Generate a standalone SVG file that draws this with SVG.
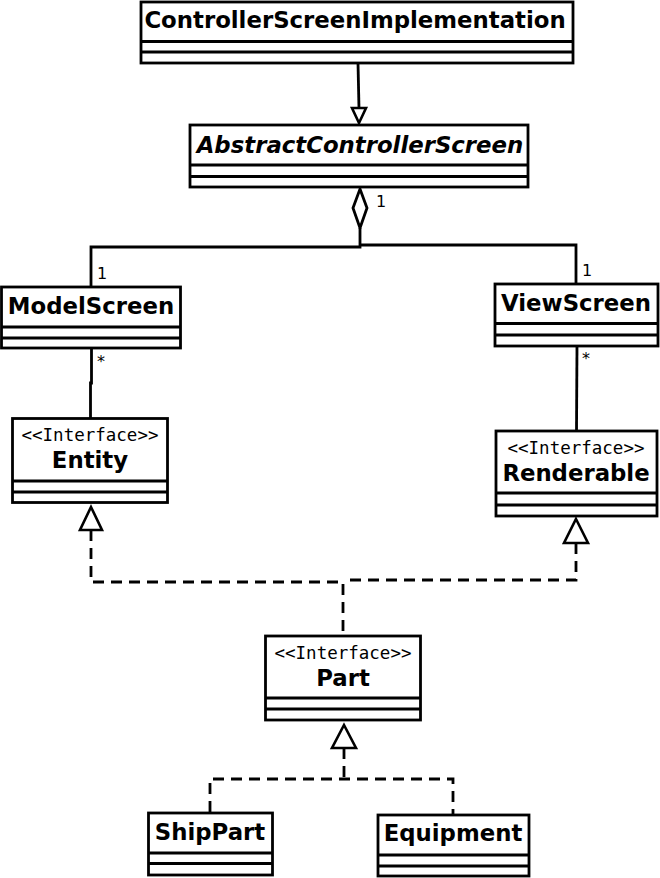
<svg xmlns="http://www.w3.org/2000/svg" width="660" height="878" viewBox="0 0 660 878">
<style>
.box{fill:#fff;stroke:#000;stroke-width:2.8}
.sep{stroke:#000;stroke-width:2.8}
.name{font-family:"DejaVu Sans",sans-serif;font-weight:bold;font-size:22.8px;text-anchor:middle;fill:#000}
.ster{font-family:"DejaVu Sans Mono",monospace;font-size:17.5px;text-anchor:middle;fill:#000}
.lbl{font-family:"DejaVu Sans",sans-serif;font-size:16px;fill:#000}
.c{fill:none;stroke:#000;stroke-width:2.8}
.d{fill:none;stroke:#000;stroke-width:2.8;stroke-dasharray:11 7}
.tri{fill:#fff;stroke:#000;stroke-width:2.6}
</style>
<rect width="660" height="878" fill="#fff"/>
<g id="connectors">
<line class="c" x1="358" y1="63" x2="359" y2="109"/>
<polygon class="tri" points="352,108 366,108 359,123"/>
<polyline class="c" points="360,228 360,247 91,247 91,287"/>
<polyline class="c" points="360,245 576,245 576,284"/>
<polygon class="c" points="360,189 367,208 360,228 353,208" style="fill:#fff"/>
<text class="lbl" x="376" y="207">1</text>
<text class="lbl" x="97" y="279">1</text>
<text class="lbl" x="582" y="276">1</text>
<polyline class="c" points="91.5,348 91.5,383 90.5,383 90.5,418"/>
<text class="lbl" x="97" y="367">*</text>
<line class="c" x1="577" y1="346" x2="576.5" y2="431"/>
<text class="lbl" x="582" y="364">*</text>
<polyline class="d" points="91,530 91,582 343,582 343,636"/>
<polyline class="d" points="576,543 576,580 343,580"/>
<polygon class="tri" points="91,507 102,530 80,530"/>
<polygon class="tri" points="576,519 588,543 564,543"/>
<polyline class="d" points="344,748 344,779"/>
<polyline class="d" points="210,812 210,779 453,779 453,814"/>
<polygon class="tri" points="344,725 356,748 332,748"/>
</g>
<g id="ControllerScreenImplementation">
<rect class="box" x="141" y="2" width="432" height="61"/>
<line class="sep" x1="141" y1="41.5" x2="573" y2="41.5"/>
<line class="sep" x1="141" y1="52" x2="573" y2="52"/>
<text class="name" x="355" y="28">ControllerScreenImplementation</text>
</g>
<g id="AbstractControllerScreen">
<rect class="box" x="190" y="125" width="338" height="62"/>
<line class="sep" x1="190" y1="165" x2="528" y2="165"/>
<line class="sep" x1="190" y1="176.5" x2="528" y2="176.5"/>
<text class="name" x="360" y="153" font-style="italic">AbstractControllerScreen</text>
</g>
<g id="ModelScreen">
<rect class="box" x="1.5" y="287" width="179" height="61"/>
<line class="sep" x1="1.5" y1="327" x2="180.5" y2="327"/>
<line class="sep" x1="1.5" y1="338" x2="180.5" y2="338"/>
<text class="name" x="91" y="314">ModelScreen</text>
</g>
<g id="ViewScreen">
<rect class="box" x="495" y="284" width="163" height="62"/>
<line class="sep" x1="495" y1="323.5" x2="658" y2="323.5"/>
<line class="sep" x1="495" y1="335" x2="658" y2="335"/>
<text class="name" x="576" y="311">ViewScreen</text>
</g>
<g id="Entity">
<rect class="box" x="12.5" y="418.5" width="155" height="84"/>
<line class="sep" x1="12.5" y1="481" x2="167.5" y2="481"/>
<line class="sep" x1="12.5" y1="492" x2="167.5" y2="492"/>
<text class="ster" x="90" y="441">&lt;&lt;Interface&gt;&gt;</text>
<text class="name" x="90" y="468">Entity</text>
</g>
<g id="Renderable">
<rect class="box" x="496" y="431" width="161" height="85"/>
<line class="sep" x1="496" y1="493" x2="657" y2="493"/>
<line class="sep" x1="496" y1="505" x2="657" y2="505"/>
<text class="ster" x="576" y="454">&lt;&lt;Interface&gt;&gt;</text>
<text class="name" x="576" y="481">Renderable</text>
</g>
<g id="Part">
<rect class="box" x="265.5" y="636" width="155" height="84"/>
<line class="sep" x1="265.5" y1="698" x2="420.5" y2="698"/>
<line class="sep" x1="265.5" y1="709" x2="420.5" y2="709"/>
<text class="ster" x="343" y="659">&lt;&lt;Interface&gt;&gt;</text>
<text class="name" x="343" y="686">Part</text>
</g>
<g id="ShipPart">
<rect class="box" x="148.5" y="813" width="124" height="62"/>
<line class="sep" x1="148.5" y1="853" x2="272.5" y2="853"/>
<line class="sep" x1="148.5" y1="863.5" x2="272.5" y2="863.5"/>
<text class="name" x="210" y="840">ShipPart</text>
</g>
<g id="Equipment">
<rect class="box" x="378" y="815" width="151" height="61"/>
<line class="sep" x1="378" y1="855" x2="529" y2="855"/>
<line class="sep" x1="378" y1="866" x2="529" y2="866"/>
<text class="name" x="453" y="841">Equipment</text>
</g>
</svg>
